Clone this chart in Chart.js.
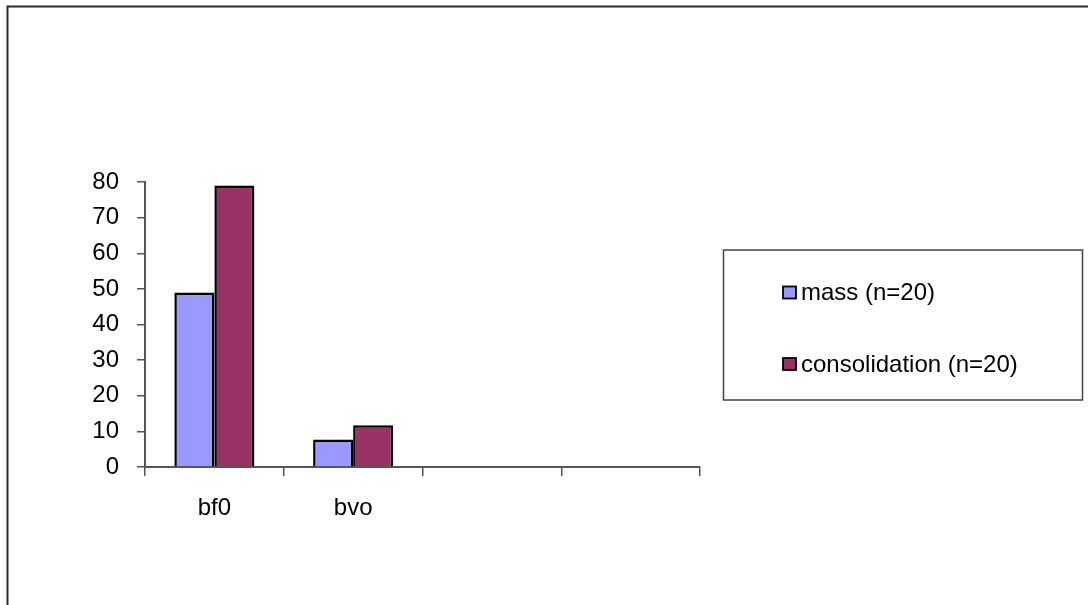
<!DOCTYPE html>
<html>
<head>
<meta charset="utf-8">
<script src="https://cdn.jsdelivr.net/npm/chart.js@4/dist/chart.umd.min.js"></script>
<style>
  html, body { margin: 0; padding: 0; background: #fff; }
  #wrap { width: 1088px; height: 605px; position: relative; }
</style>
</head>
<body>
<div id="wrap"><canvas id="c" width="1088" height="605"></canvas></div>
<script>
// categories and series
const categories = ['bf0', 'bvo', '', ''];
const seriesNames = ['mass (n=20)', 'consolidation (n=20)'];
const massValues = [49, 7.7, null, null];
const consolidationValues = [79, 11.7, null, null];
const yTickValues = [0, 10, 20, 30, 40, 50, 60, 70, 80];

const FONT = 'Liberation Sans, Arial, sans-serif';

// outer frame of the chart object (only top and left edges are visible)
const framePlugin = {
  id: 'frame',
  beforeDraw(chart) {
    const ctx = chart.ctx;
    ctx.save();
    ctx.fillStyle = '#fff';
    ctx.fillRect(0, 0, chart.width, chart.height);
    ctx.strokeStyle = '#2a2a2a';
    ctx.lineWidth = 2;
    ctx.strokeRect(7.5, 6.5, 1200, 800);
    ctx.restore();
  }
};

// boxed legend on the right, built from the datasets
const boxLegend = {
  id: 'boxLegend',
  afterDraw(chart) {
    const ctx = chart.ctx;
    ctx.save();
    ctx.strokeStyle = '#444';
    ctx.lineWidth = 1.5;
    ctx.strokeRect(723.5, 250, 359, 150);
    const rows = [292.5, 364];
    chart.data.datasets.forEach((ds, i) => {
      const y = rows[i];
      ctx.fillStyle = ds.backgroundColor;
      ctx.fillRect(783, y - 6, 13, 12);
      ctx.strokeStyle = '#000';
      ctx.lineWidth = 1.8;
      ctx.strokeRect(783, y - 6, 13, 12);
      ctx.fillStyle = '#000';
      ctx.font = '24px ' + FONT;
      ctx.textBaseline = 'middle';
      ctx.textAlign = 'left';
      ctx.fillText(ds.label, 801, y + 1);
    });
    ctx.restore();
  }
};

new Chart(document.getElementById('c'), {
  type: 'bar',
  data: {
    labels: categories,
    datasets: [
      { label: seriesNames[0], data: massValues, backgroundColor: '#9999ff', borderColor: '#000', borderWidth: 2.5 },
      { label: seriesNames[1], data: consolidationValues, backgroundColor: '#993366', borderColor: '#000', borderWidth: 2.5 }
    ]
  },
  options: {
    responsive: false,
    animation: false,
    events: [],
    layout: { padding: { left: 0, top: 182, right: 388, bottom: 0 } },
    datasets: { bar: { categoryPercentage: 0.577, barPercentage: 1 } },
    plugins: { legend: { display: false }, tooltip: { enabled: false } },
    scales: {
      x: {
        grid: { offset: true, drawOnChartArea: false, tickLength: 9, color: '#555', lineWidth: 1.5 },
        border: { color: '#555', width: 2 },
        ticks: { color: '#000', font: { family: FONT, size: 24 }, padding: 18, maxRotation: 0 },
        afterFit(scale) { scale.height = 605 - 467; }
      },
      y: {
        min: 0,
        max: 80,
        afterBuildTicks(scale) { scale.ticks = yTickValues.map(v => ({ value: v })); },
        grid: { drawOnChartArea: false, tickLength: 8, color: '#555', lineWidth: 1.5 },
        border: { color: '#555', width: 2 },
        ticks: { color: '#000', font: { family: FONT, size: 24 }, padding: 18 },
        afterFit(scale) { scale.width = 145; }
      }
    }
  },
  plugins: [framePlugin, boxLegend]
});
</script>
</body>
</html>
